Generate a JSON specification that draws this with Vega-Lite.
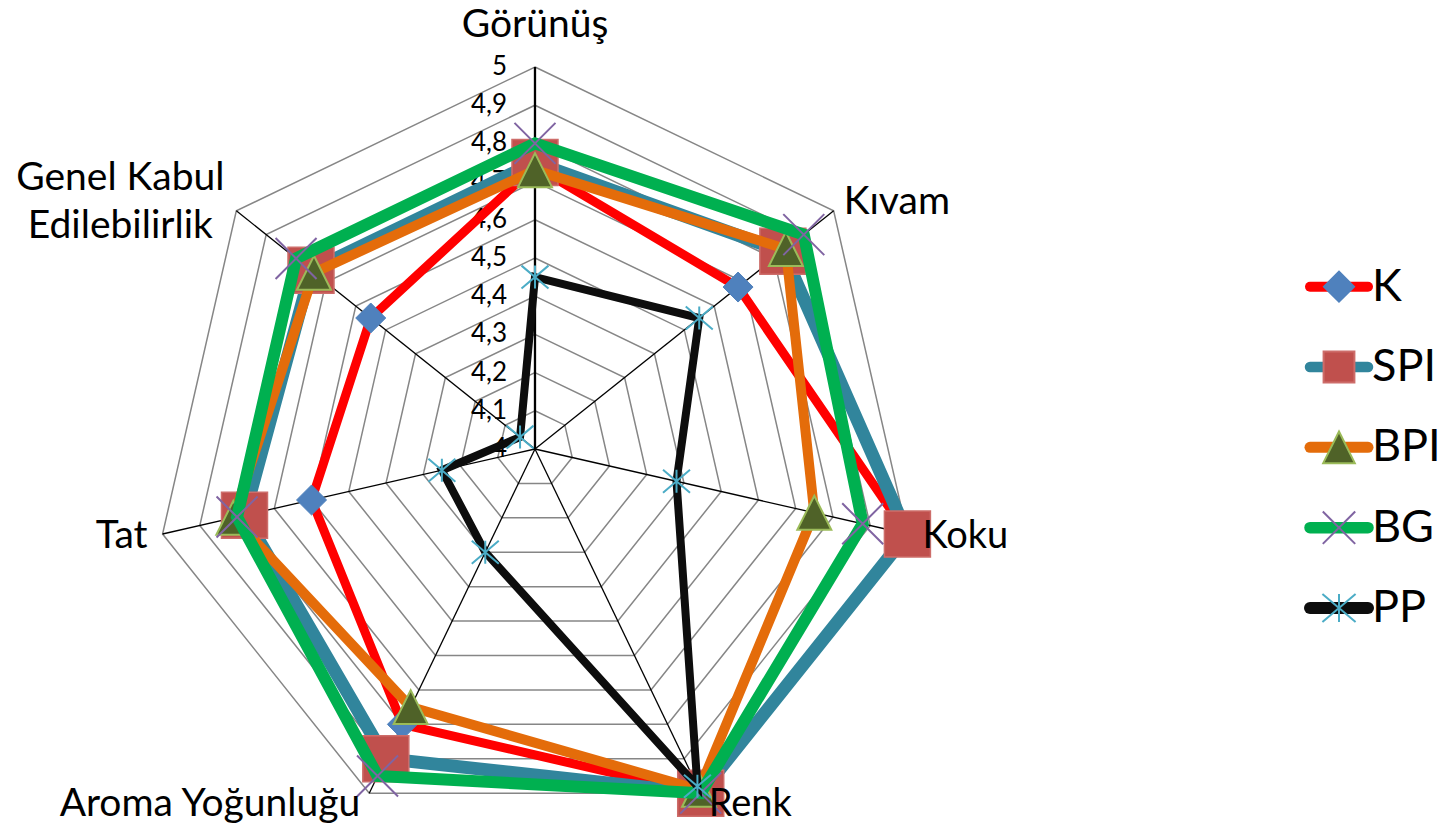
{
  "$schema": "https://vega.github.io/schema/vega-lite/v6.json",
  "background": "white",
  "padding": 0,
  "spacing": 0,
  "config": {"view": {"stroke": null}, "font": "Lato", "concat": {"spacing": 0}},
  "datasets": {
    "scores": [
      {"sample": "K", "attribute": "Görünüş", "score": 4.74},
      {"sample": "K", "attribute": "Kıvam", "score": 4.68},
      {"sample": "K", "attribute": "Koku", "score": 5.00},
      {"sample": "K", "attribute": "Renk", "score": 5.00},
      {"sample": "K", "attribute": "Aroma Yoğunluğu", "score": 4.80},
      {"sample": "K", "attribute": "Tat", "score": 4.60},
      {"sample": "K", "attribute": "Genel Kabul Edilebilirlik", "score": 4.55},
      {"sample": "SPI", "attribute": "Görünüş", "score": 4.75},
      {"sample": "SPI", "attribute": "Kıvam", "score": 4.83},
      {"sample": "SPI", "attribute": "Koku", "score": 5.00},
      {"sample": "SPI", "attribute": "Renk", "score": 5.00},
      {"sample": "SPI", "attribute": "Aroma Yoğunluğu", "score": 4.90},
      {"sample": "SPI", "attribute": "Tat", "score": 4.78},
      {"sample": "SPI", "attribute": "Genel Kabul Edilebilirlik", "score": 4.75},
      {"sample": "BPI", "attribute": "Görünüş", "score": 4.73},
      {"sample": "BPI", "attribute": "Kıvam", "score": 4.84},
      {"sample": "BPI", "attribute": "Koku", "score": 4.75},
      {"sample": "BPI", "attribute": "Renk", "score": 4.99},
      {"sample": "BPI", "attribute": "Aroma Yoğunluğu", "score": 4.75},
      {"sample": "BPI", "attribute": "Tat", "score": 4.81},
      {"sample": "BPI", "attribute": "Genel Kabul Edilebilirlik", "score": 4.74},
      {"sample": "BG", "attribute": "Görünüş", "score": 4.80},
      {"sample": "BG", "attribute": "Kıvam", "score": 4.90},
      {"sample": "BG", "attribute": "Koku", "score": 4.88},
      {"sample": "BG", "attribute": "Renk", "score": 5.00},
      {"sample": "BG", "attribute": "Aroma Yoğunluğu", "score": 4.95},
      {"sample": "BG", "attribute": "Tat", "score": 4.80},
      {"sample": "BG", "attribute": "Genel Kabul Edilebilirlik", "score": 4.80},
      {"sample": "PP", "attribute": "Görünüş", "score": 4.45},
      {"sample": "PP", "attribute": "Kıvam", "score": 4.55},
      {"sample": "PP", "attribute": "Koku", "score": 4.38},
      {"sample": "PP", "attribute": "Renk", "score": 4.98},
      {"sample": "PP", "attribute": "Aroma Yoğunluğu", "score": 4.30},
      {"sample": "PP", "attribute": "Tat", "score": 4.25},
      {"sample": "PP", "attribute": "Genel Kabul Edilebilirlik", "score": 4.05}
    ],
    "axes": [
      {"attribute": "Görünüş", "rings": [4.1, 4.2, 4.3, 4.4, 4.5, 4.6, 4.7, 4.8, 4.9, 5.0]},
      {"attribute": "Kıvam", "rings": [4.1, 4.2, 4.3, 4.4, 4.5, 4.6, 4.7, 4.8, 4.9, 5.0]},
      {"attribute": "Koku", "rings": [4.1, 4.2, 4.3, 4.4, 4.5, 4.6, 4.7, 4.8, 4.9, 5.0]},
      {"attribute": "Renk", "rings": [4.1, 4.2, 4.3, 4.4, 4.5, 4.6, 4.7, 4.8, 4.9, 5.0]},
      {"attribute": "Aroma Yoğunluğu", "rings": [4.1, 4.2, 4.3, 4.4, 4.5, 4.6, 4.7, 4.8, 4.9, 5.0]},
      {"attribute": "Tat", "rings": [4.1, 4.2, 4.3, 4.4, 4.5, 4.6, 4.7, 4.8, 4.9, 5.0]},
      {"attribute": "Genel Kabul Edilebilirlik", "rings": [4.1, 4.2, 4.3, 4.4, 4.5, 4.6, 4.7, 4.8, 4.9, 5.0]}
    ],
    "ticks": [
      {"v": 4.0, "label": "4"},
      {"v": 4.1, "label": "4,1"},
      {"v": 4.2, "label": "4,2"},
      {"v": 4.3, "label": "4,3"},
      {"v": 4.4, "label": "4,4"},
      {"v": 4.5, "label": "4,5"},
      {"v": 4.6, "label": "4,6"},
      {"v": 4.7, "label": "4,7"},
      {"v": 4.8, "label": "4,8"},
      {"v": 4.9, "label": "4,9"},
      {"v": 5.0, "label": "5"}
    ],
    "legend": [
      {"sample": "K"}, {"sample": "SPI"}, {"sample": "BPI"}, {"sample": "BG"}, {"sample": "PP"}
    ]
  },
  "hconcat": [
    {
      "width": 1100,
      "height": 830,
      "encoding": {
        "x": {"field": "x", "type": "quantitative", "scale": {"domain": [-1.4005, 1.4791], "nice": false, "zero": false}, "axis": null},
        "y": {"field": "y", "type": "quantitative", "scale": {"domain": [-0.9974, 1.1754], "nice": false, "zero": false}, "axis": null}
      },
      "layer": [
        {
          "data": {"name": "axes"},
          "transform": [
            {"flatten": ["rings"], "as": ["ring"]},
            {"calculate": "indexof(['Görünüş','Kıvam','Koku','Renk','Aroma Yoğunluğu','Tat','Genel Kabul Edilebilirlik'], datum.attribute)", "as": "i"},
            {"calculate": "(datum.ring - 4) * sin(datum.i * 2 * PI / 7)", "as": "x"},
            {"calculate": "(datum.ring - 4) * cos(datum.i * 2 * PI / 7)", "as": "y"}
          ],
          "mark": {"type": "line", "interpolate": "linear-closed", "stroke": "#868686", "strokeWidth": 1.5},
          "encoding": {"detail": {"field": "ring", "type": "nominal"}, "order": {"field": "i", "type": "quantitative"}}
        },
        {
          "data": {"name": "axes"},
          "transform": [
            {"calculate": "indexof(['Görünüş','Kıvam','Koku','Renk','Aroma Yoğunluğu','Tat','Genel Kabul Edilebilirlik'], datum.attribute)", "as": "i"},
            {"calculate": "sin(datum.i * 2 * PI / 7)", "as": "x"},
            {"calculate": "cos(datum.i * 2 * PI / 7)", "as": "y"}
          ],
          "mark": {"type": "rule", "color": "black"},
          "encoding": {
            "x2": {"datum": 0},
            "y2": {"datum": 0},
            "strokeWidth": {"condition": {"test": "datum.attribute === 'Görünüş'", "value": 2.3}, "value": 1.3}
          }
        },
        {
          "data": {"name": "ticks"},
          "transform": [
            {"calculate": "0", "as": "x"},
            {"calculate": "datum.v - 4", "as": "y"}
          ],
          "mark": {"type": "text", "align": "right", "baseline": "middle", "dx": -28, "fontSize": 26, "color": "black"},
          "encoding": {"text": {"field": "label", "type": "nominal"}}
        },
        {
          "data": {"name": "scores"},
          "transform": [
            {"filter": "datum.sample === 'K'"},
            {"calculate": "indexof(['Görünüş','Kıvam','Koku','Renk','Aroma Yoğunluğu','Tat','Genel Kabul Edilebilirlik'], datum.attribute)", "as": "i"},
            {"calculate": "(datum.score - 4) * sin(datum.i * 2 * PI / 7)", "as": "x"},
            {"calculate": "(datum.score - 4) * cos(datum.i * 2 * PI / 7)", "as": "y"}
          ],
          "layer": [
            {"mark": {"type": "line", "interpolate": "linear-closed", "stroke": "#FF0000", "strokeWidth": 9}, "encoding": {"order": {"field": "i", "type": "quantitative"}}},
            {"mark": {"type": "point", "shape": "diamond", "filled": true, "fill": "#4F81BD", "stroke": "#4F81BD", "strokeWidth": 1, "size": 900, "opacity": 1}}
          ]
        },
        {
          "data": {"name": "scores"},
          "transform": [
            {"filter": "datum.sample === 'SPI'"},
            {"calculate": "indexof(['Görünüş','Kıvam','Koku','Renk','Aroma Yoğunluğu','Tat','Genel Kabul Edilebilirlik'], datum.attribute)", "as": "i"},
            {"calculate": "(datum.score - 4) * sin(datum.i * 2 * PI / 7)", "as": "x"},
            {"calculate": "(datum.score - 4) * cos(datum.i * 2 * PI / 7)", "as": "y"}
          ],
          "layer": [
            {"mark": {"type": "line", "interpolate": "linear-closed", "stroke": "#31859C", "strokeWidth": 13}, "encoding": {"order": {"field": "i", "type": "quantitative"}}},
            {"mark": {"type": "point", "shape": "square", "filled": true, "fill": "#C0504D", "stroke": "#CD6D6A", "strokeWidth": 1.5, "size": 2116, "opacity": 1}}
          ]
        },
        {
          "data": {"name": "scores"},
          "transform": [
            {"filter": "datum.sample === 'BPI'"},
            {"calculate": "indexof(['Görünüş','Kıvam','Koku','Renk','Aroma Yoğunluğu','Tat','Genel Kabul Edilebilirlik'], datum.attribute)", "as": "i"},
            {"calculate": "(datum.score - 4) * sin(datum.i * 2 * PI / 7)", "as": "x"},
            {"calculate": "(datum.score - 4) * cos(datum.i * 2 * PI / 7)", "as": "y"}
          ],
          "layer": [
            {"mark": {"type": "line", "interpolate": "linear-closed", "stroke": "#E46C0A", "strokeWidth": 10}, "encoding": {"order": {"field": "i", "type": "quantitative"}}},
            {"mark": {"type": "point", "shape": "M0,-1L1,1L-1,1Z", "filled": true, "fill": "#4F6228", "stroke": "#9BBB59", "strokeWidth": 2, "size": 1156, "opacity": 1}}
          ]
        },
        {
          "data": {"name": "scores"},
          "transform": [
            {"filter": "datum.sample === 'BG'"},
            {"calculate": "indexof(['Görünüş','Kıvam','Koku','Renk','Aroma Yoğunluğu','Tat','Genel Kabul Edilebilirlik'], datum.attribute)", "as": "i"},
            {"calculate": "(datum.score - 4) * sin(datum.i * 2 * PI / 7)", "as": "x"},
            {"calculate": "(datum.score - 4) * cos(datum.i * 2 * PI / 7)", "as": "y"}
          ],
          "layer": [
            {"mark": {"type": "line", "interpolate": "linear-closed", "stroke": "#00B050", "strokeWidth": 12}, "encoding": {"order": {"field": "i", "type": "quantitative"}}},
            {"mark": {"type": "point", "shape": "M-1,-1L1,1M-1,1L1,-1", "filled": false, "stroke": "#8064A2", "strokeWidth": 2, "size": 1681, "opacity": 1}}
          ]
        },
        {
          "data": {"name": "scores"},
          "transform": [
            {"filter": "datum.sample === 'PP'"},
            {"calculate": "indexof(['Görünüş','Kıvam','Koku','Renk','Aroma Yoğunluğu','Tat','Genel Kabul Edilebilirlik'], datum.attribute)", "as": "i"},
            {"calculate": "(datum.score - 4) * sin(datum.i * 2 * PI / 7)", "as": "x"},
            {"calculate": "(datum.score - 4) * cos(datum.i * 2 * PI / 7)", "as": "y"}
          ],
          "layer": [
            {"mark": {"type": "line", "interpolate": "linear-closed", "stroke": "#0D0D0D", "strokeWidth": 8}, "encoding": {"order": {"field": "i", "type": "quantitative"}}},
            {"mark": {"type": "point", "shape": "M-1,-0.85L1,0.85M-1,0.85L1,-0.85M0,-0.85L0,0.85", "filled": false, "stroke": "#4BACC6", "strokeWidth": 2, "size": 729, "opacity": 1}}
          ]
        },
        {
          "data": {"name": "axes"},
          "transform": [
            {"filter": "datum.attribute === 'Görünüş'"},
            {"calculate": "indexof(['Görünüş','Kıvam','Koku','Renk','Aroma Yoğunluğu','Tat','Genel Kabul Edilebilirlik'], datum.attribute)", "as": "i"},
            {"calculate": "sin(datum.i * 2 * PI / 7)", "as": "x"},
            {"calculate": "cos(datum.i * 2 * PI / 7)", "as": "y"}
          ],
          "mark": {"type": "text", "align": "center", "baseline": "alphabetic", "dy": -30, "fontSize": 39, "color": "black"},
          "encoding": {"text": {"field": "attribute", "type": "nominal"}}
        },
        {
          "data": {"name": "axes"},
          "transform": [
            {"filter": "datum.attribute === 'Kıvam'"},
            {"calculate": "indexof(['Görünüş','Kıvam','Koku','Renk','Aroma Yoğunluğu','Tat','Genel Kabul Edilebilirlik'], datum.attribute)", "as": "i"},
            {"calculate": "sin(datum.i * 2 * PI / 7)", "as": "x"},
            {"calculate": "cos(datum.i * 2 * PI / 7)", "as": "y"}
          ],
          "mark": {"type": "text", "align": "left", "baseline": "alphabetic", "dx": 10, "dy": 3, "fontSize": 39, "color": "black"},
          "encoding": {"text": {"field": "attribute", "type": "nominal"}}
        },
        {
          "data": {"name": "axes"},
          "transform": [
            {"filter": "datum.attribute === 'Koku'"},
            {"calculate": "indexof(['Görünüş','Kıvam','Koku','Renk','Aroma Yoğunluğu','Tat','Genel Kabul Edilebilirlik'], datum.attribute)", "as": "i"},
            {"calculate": "sin(datum.i * 2 * PI / 7)", "as": "x"},
            {"calculate": "cos(datum.i * 2 * PI / 7)", "as": "y"}
          ],
          "mark": {"type": "text", "align": "left", "baseline": "alphabetic", "dx": 15, "dy": 14, "fontSize": 38, "color": "black"},
          "encoding": {"text": {"field": "attribute", "type": "nominal"}}
        },
        {
          "data": {"name": "axes"},
          "transform": [
            {"filter": "datum.attribute === 'Renk'"},
            {"calculate": "indexof(['Görünüş','Kıvam','Koku','Renk','Aroma Yoğunluğu','Tat','Genel Kabul Edilebilirlik'], datum.attribute)", "as": "i"},
            {"calculate": "sin(datum.i * 2 * PI / 7)", "as": "x"},
            {"calculate": "cos(datum.i * 2 * PI / 7)", "as": "y"}
          ],
          "mark": {"type": "text", "align": "left", "baseline": "alphabetic", "dx": 8, "dy": 23, "fontSize": 38, "color": "black"},
          "encoding": {"text": {"field": "attribute", "type": "nominal"}}
        },
        {
          "data": {"name": "axes"},
          "transform": [
            {"filter": "datum.attribute === 'Aroma Yoğunluğu'"},
            {"calculate": "indexof(['Görünüş','Kıvam','Koku','Renk','Aroma Yoğunluğu','Tat','Genel Kabul Edilebilirlik'], datum.attribute)", "as": "i"},
            {"calculate": "sin(datum.i * 2 * PI / 7)", "as": "x"},
            {"calculate": "cos(datum.i * 2 * PI / 7)", "as": "y"}
          ],
          "mark": {"type": "text", "align": "right", "baseline": "alphabetic", "dx": -9, "dy": 23, "fontSize": 39, "color": "black"},
          "encoding": {"text": {"field": "attribute", "type": "nominal"}}
        },
        {
          "data": {"name": "axes"},
          "transform": [
            {"filter": "datum.attribute === 'Tat'"},
            {"calculate": "indexof(['Görünüş','Kıvam','Koku','Renk','Aroma Yoğunluğu','Tat','Genel Kabul Edilebilirlik'], datum.attribute)", "as": "i"},
            {"calculate": "sin(datum.i * 2 * PI / 7)", "as": "x"},
            {"calculate": "cos(datum.i * 2 * PI / 7)", "as": "y"}
          ],
          "mark": {"type": "text", "align": "right", "baseline": "alphabetic", "dx": -15, "dy": 14, "fontSize": 39, "color": "black"},
          "encoding": {"text": {"field": "attribute", "type": "nominal"}}
        },
        {
          "data": {"name": "axes"},
          "transform": [
            {"filter": "datum.attribute === 'Genel Kabul Edilebilirlik'"},
            {"calculate": "indexof(['Görünüş','Kıvam','Koku','Renk','Aroma Yoğunluğu','Tat','Genel Kabul Edilebilirlik'], datum.attribute)", "as": "i"},
            {"calculate": "sin(datum.i * 2 * PI / 7)", "as": "x"},
            {"calculate": "cos(datum.i * 2 * PI / 7)", "as": "y"},
            {"calculate": "replace(datum.attribute, ' Edilebilirlik', '|Edilebilirlik')", "as": "lbl"}
          ],
          "mark": {"type": "text", "align": "center", "baseline": "alphabetic", "dx": -116, "dy": -21, "lineBreak": "|", "lineHeight": 48, "fontSize": 39, "color": "black"},
          "encoding": {"text": {"field": "lbl", "type": "nominal"}}
        }
      ]
    },
    {
      "width": 355,
      "height": 830,
      "data": {"name": "legend"},
      "encoding": {
        "y": {"field": "sample", "type": "nominal", "scale": {"type": "point", "padding": 0, "domain": ["K", "SPI", "BPI", "BG", "PP"], "range": [286.7, 608]}, "axis": null}
      },
      "layer": [
        {
          "mark": {"type": "rule", "strokeCap": "round"},
          "encoding": {
            "x": {"datum": 210, "type": "quantitative", "scale": {"domain": [0, 355], "nice": false, "zero": false}, "axis": null},
            "x2": {"datum": 268},
            "color": {"field": "sample", "type": "nominal", "scale": {"domain": ["K", "SPI", "BPI", "BG", "PP"], "range": ["#FF0000", "#31859C", "#E46C0A", "#00B050", "#0D0D0D"]}, "legend": null},
            "strokeWidth": {"field": "sample", "type": "ordinal", "scale": {"domain": ["K", "SPI", "BPI", "BG", "PP"], "range": [10, 12, 12, 13, 9]}, "legend": null}
          }
        },
        {
          "mark": {"type": "point", "opacity": 1, "strokeWidth": 2},
          "encoding": {
            "x": {"datum": 239, "type": "quantitative"},
            "shape": {"field": "sample", "type": "nominal", "scale": {"domain": ["K", "SPI", "BPI", "BG", "PP"], "range": ["diamond", "square", "M0,-1L1,1L-1,1Z", "M-1,-1L1,1M-1,1L1,-1", "M-1,-0.85L1,0.85M-1,0.85L1,-0.85M0,-0.85L0,0.85"]}, "legend": null},
            "fill": {"field": "sample", "type": "nominal", "scale": {"domain": ["K", "SPI", "BPI", "BG", "PP"], "range": ["#4F81BD", "#C0504D", "#4F6228", "transparent", "transparent"]}, "legend": null},
            "stroke": {"field": "sample", "type": "nominal", "scale": {"domain": ["K", "SPI", "BPI", "BG", "PP"], "range": ["#4F81BD", "#CD6D6A", "#9BBB59", "#8064A2", "#4BACC6"]}, "legend": null},
            "size": {"field": "sample", "type": "ordinal", "scale": {"domain": ["K", "SPI", "BPI", "BG", "PP"], "range": [900, 1100, 1024, 1024, 576]}, "legend": null}
          }
        },
        {
          "mark": {"type": "text", "align": "left", "baseline": "middle", "fontSize": 45, "color": "black"},
          "encoding": {
            "x": {"datum": 272, "type": "quantitative"},
            "text": {"field": "sample", "type": "nominal"}
          }
        }
      ]
    }
  ]
}
